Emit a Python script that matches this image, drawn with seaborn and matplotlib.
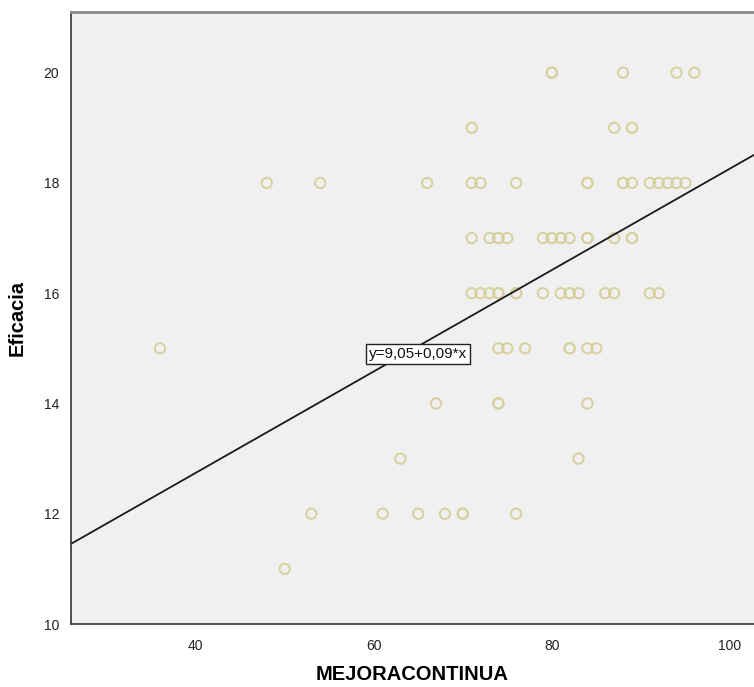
import numpy as np
import pandas as pd
import matplotlib
matplotlib.use("Agg")
import matplotlib.pyplot as plt
import seaborn as sns

# MEJORACONTINUA values grouped by Eficacia level
x_20 = [80, 80, 88, 94, 96]
x_19 = [71, 87, 89]
x_18 = [48, 54, 66, 71, 72, 76, 84, 84, 88, 88, 89, 91, 92, 93, 94, 95]
x_17 = [71, 73, 74, 74, 75, 79, 80, 80, 81, 81, 82, 84, 84, 87, 89, 89]
x_16 = [71, 72, 73, 74, 74, 76, 76, 79, 81, 82, 82, 83, 86, 87, 91, 92]
x_15 = [36, 74, 75, 77, 82, 82, 84, 85]
x_14 = [67, 74, 74, 84]
x_13 = [63, 83]
x_12 = [53, 61, 65, 68, 70, 70, 76]
x_11 = [50]

groups = {20: x_20, 19: x_19, 18: x_18, 17: x_17, 16: x_16,
          15: x_15, 14: x_14, 13: x_13, 12: x_12, 11: x_11}

intercept = 9.06
slope = 0.092
fit_label = "y=9,05+0,09*x"

rows = []
for level, xs in groups.items():
    for v in xs:
        rows.append({"MEJORACONTINUA": v, "Eficacia": level})
df = pd.DataFrame(rows)

sns.set_style("white")
plt.rcParams['font.family'] = ['Liberation Sans', 'DejaVu Sans']

fig = plt.figure(figsize=(7.54, 6.87), dpi=100)
ax = fig.add_axes([0.094, 0.0917, 0.906, 0.8908])
ax.set_facecolor("#f0f0f0")

sns.scatterplot(data=df, x="MEJORACONTINUA", y="Eficacia", ax=ax,
                marker="o", s=55, facecolors="none", edgecolor="#d6d19c",
                linewidth=1.4)

ax.axline((0, intercept), slope=slope, color="#1a1a1a", linewidth=1.3)

ax.text(65.0, 14.9, fit_label, ha="center", va="center", fontsize=11,
        color="#111111",
        bbox=dict(boxstyle="square,pad=0.2", facecolor="white",
                  edgecolor="#222222", linewidth=1.0))

ax.set_xlim(26, 102.7)
ax.set_ylim(10, 21.1)
ax.set_xticks([40, 60, 80, 100])
ax.set_yticks([10, 12, 14, 16, 18, 20])

for side in ["left", "bottom"]:
    ax.spines[side].set_color("#333333")
    ax.spines[side].set_linewidth(1.2)
ax.spines["top"].set_color("#888888")
ax.spines["top"].set_linewidth(2)
ax.spines["right"].set_visible(False)

ax.tick_params(axis="both", labelsize=10, colors="#222222", direction="out")
ax.tick_params(axis="x", length=7, width=1)
ax.tick_params(axis="y", length=5, width=1)

ax.set_xlabel("MEJORACONTINUA", fontsize=14.5, fontweight="bold", labelpad=9,
              color="black")
ax.set_ylabel("Eficacia", fontsize=14.5, fontweight="bold", labelpad=12,
              color="black")

fig.savefig("out.png", dpi=100)
